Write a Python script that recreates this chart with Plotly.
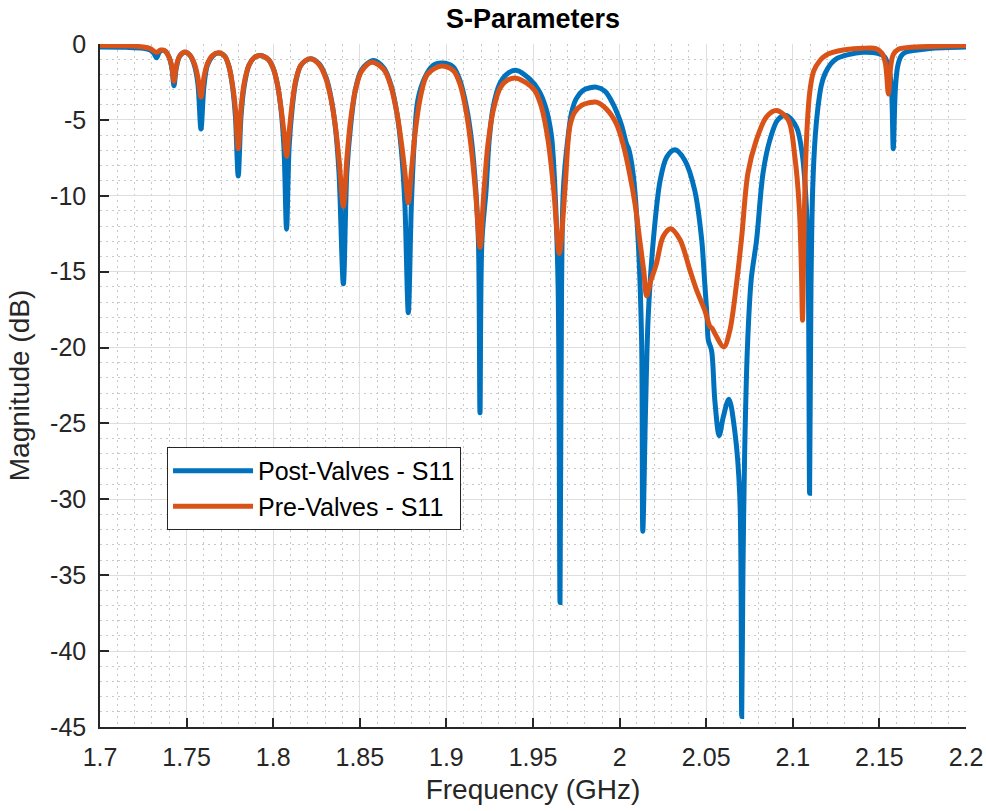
import plotly.graph_objects as go

# ---------------- data ----------------
# (frequency GHz, magnitude dB)
post_valves_s11 = [
    (1.700, -0.20), (1.715, -0.22), (1.725, -0.28), (1.729, -0.40), (1.731, -0.60),
    (1.7327, -0.90), (1.7342, -0.55), (1.736, -0.42), (1.738, -0.50), (1.740, -0.90),
    (1.7415, -1.60), (1.7427, -2.75), (1.744, -1.60), (1.746, -0.80), (1.7491, -0.55),
    (1.752, -0.75), (1.7545, -1.40), (1.7565, -2.60), (1.7583, -5.60), (1.760, -2.80),
    (1.762, -1.40), (1.765, -0.80), (1.7683, -0.60), (1.772, -0.80), (1.7745, -1.50),
    (1.7765, -2.80), (1.7782, -4.80), (1.7798, -8.70), (1.7814, -4.80), (1.7832, -2.80),
    (1.786, -1.40), (1.789, -0.90), (1.7924, -0.75), (1.797, -1.00), (1.800, -1.60),
    (1.8025, -2.70), (1.8045, -4.30), (1.8062, -6.80), (1.8077, -12.2), (1.8092, -6.80),
    (1.811, -4.20), (1.813, -2.50), (1.816, -1.40), (1.8212, -0.98), (1.8265, -1.30),
    (1.8305, -2.20), (1.8335, -3.60), (1.836, -5.60), (1.838, -8.50), (1.8405, -15.8),
    (1.8425, -8.50), (1.8447, -5.40), (1.8475, -3.00), (1.851, -1.70), (1.8578, -1.09),
    (1.864, -1.60), (1.868, -2.70), (1.8715, -4.60), (1.874, -7.00), (1.876, -10.5),
    (1.878, -17.7), (1.8798, -10.5), (1.8815, -6.35), (1.8835, -3.70), (1.8876, -2.20),
    (1.8922, -1.42), (1.8973, -1.26), (1.9039, -1.50), (1.9078, -2.40), (1.9116, -4.16),
    (1.9145, -6.35), (1.917, -9.65), (1.9185, -13.0), (1.9194, -24.3), (1.9205, -13.0),
    (1.9229, -9.65), (1.9247, -6.35), (1.927, -4.16), (1.9309, -2.60), (1.9347, -2.00),
    (1.9406, -1.74), (1.948, -2.30), (1.9533, -3.06), (1.9573, -4.16), (1.9606, -6.00),
    (1.9627, -9.65), (1.9645, -16.0), (1.9656, -36.8), (1.9665, -16.0), (1.9675, -9.65),
    (1.970, -6.35), (1.9723, -4.50), (1.9750, -3.60), (1.9790, -3.05), (1.9830, -2.88),
    (1.9864, -2.84), (1.9915, -3.10), (1.9962, -3.94), (2.001, -5.30), (2.004, -6.60),
    (2.0052, -6.90), (2.0078, -8.55), (2.0107, -12.9), (2.0127, -19.5), (2.0134, -32.1),
    (2.015, -24.0), (2.0165, -18.0), (2.0195, -12.9), (2.0234, -9.00), (2.0272, -7.45),
    (2.032, -6.97), (2.0377, -7.67), (2.0434, -9.65), (2.0474, -12.9), (2.049, -15.5),
    (2.0505, -18.0), (2.0512, -19.5), (2.0531, -20.2), (2.055, -23.5), (2.0575, -25.8),
    (2.0598, -24.6), (2.0631, -23.4), (2.0666, -25.6), (2.0694, -29.8), (2.0705, -44.3),
    (2.0712, -35.0), (2.0722, -27.0), (2.0738, -20.0), (2.076, -15.5), (2.0791, -12.9),
    (2.0828, -8.50), (2.0867, -6.35), (2.0913, -5.00), (2.0962, -4.70), (2.1022, -5.50),
    (2.1055, -7.30), (2.1075, -10.0), (2.1088, -14.0), (2.1097, -29.6), (2.1105, -16.0),
    (2.1115, -9.50), (2.113, -6.00), (2.1145, -4.20), (2.1165, -2.70), (2.1186, -1.95),
    (2.122, -1.30), (2.1253, -0.96), (2.132, -0.70), (2.1405, -0.55), (2.149, -0.62),
    (2.153, -0.85), (2.1555, -1.60), (2.157, -3.00), (2.158, -6.90), (2.1592, -3.00),
    (2.1605, -1.50), (2.1625, -0.80), (2.165, -0.55), (2.179, -0.30), (2.200, -0.20),
]

pre_valves_s11 = [
    (1.700, -0.10), (1.715, -0.12), (1.725, -0.20), (1.729, -0.30), (1.7325, -0.55),
    (1.735, -0.40), (1.7375, -0.45), (1.740, -0.90), (1.7415, -1.50), (1.7427, -2.45),
    (1.744, -1.50), (1.746, -0.80), (1.7491, -0.52), (1.752, -0.75), (1.7545, -1.30),
    (1.7565, -2.20), (1.7583, -3.50), (1.760, -2.20), (1.762, -1.30), (1.765, -0.75),
    (1.7683, -0.58), (1.772, -0.80), (1.7745, -1.50), (1.7765, -2.70), (1.7782, -4.30),
    (1.7798, -6.90), (1.7814, -4.30), (1.7832, -2.60), (1.786, -1.40), (1.789, -0.90),
    (1.7924, -0.75), (1.797, -1.00), (1.800, -1.60), (1.8025, -2.70), (1.8045, -4.20),
    (1.8062, -5.80), (1.8077, -7.40), (1.8092, -5.80), (1.811, -3.90), (1.813, -2.40),
    (1.816, -1.40), (1.8212, -0.98), (1.8265, -1.35), (1.8305, -2.30), (1.8335, -3.70),
    (1.836, -5.50), (1.838, -7.60), (1.8405, -10.7), (1.8425, -7.60), (1.8447, -5.00),
    (1.8475, -3.00), (1.851, -1.80), (1.857, -1.20), (1.864, -1.70), (1.868, -2.80),
    (1.8715, -4.60), (1.874, -6.50), (1.876, -8.40), (1.878, -10.45), (1.8798, -8.40),
    (1.882, -5.80), (1.885, -3.50), (1.889, -2.00), (1.897, -1.45), (1.904, -1.75),
    (1.908, -2.70), (1.9115, -4.50), (1.9145, -7.00), (1.917, -10.0), (1.9194, -13.4),
    (1.9215, -10.0), (1.924, -6.60), (1.927, -4.40), (1.931, -2.90), (1.935, -2.40),
    (1.9403, -2.25), (1.946, -2.55), (1.951, -3.06), (1.9549, -4.16), (1.9587, -6.35),
    (1.962, -9.65), (1.9652, -13.8), (1.9684, -9.65), (1.9703, -6.35), (1.9716, -5.25),
    (1.9740, -4.50), (1.9780, -4.05), (1.9820, -3.88), (1.9866, -3.83), (1.9925, -4.30),
    (1.9981, -5.25), (2.002, -6.60), (2.0058, -8.55), (2.009, -10.6), (2.0116, -12.9),
    (2.014, -15.0), (2.0156, -16.6), (2.018, -15.6), (2.0212, -14.5), (2.0251, -12.7),
    (2.0295, -12.17), (2.0349, -12.9), (2.0406, -14.9), (2.0444, -16.2), (2.0492, -17.55),
    (2.0521, -18.6), (2.0535, -18.75), (2.055, -19.07), (2.0602, -19.96), (2.0636, -18.9),
    (2.0675, -15.8), (2.0705, -12.7), (2.0741, -8.50), (2.0789, -6.35), (2.0848, -4.80),
    (2.0906, -4.38), (2.0974, -5.00), (2.1012, -7.45), (2.1037, -10.7), (2.105, -15.0),
    (2.1056, -18.2), (2.1064, -13.0), (2.1072, -8.50), (2.1085, -5.00), (2.1099, -3.06),
    (2.112, -1.80), (2.1157, -1.09), (2.119, -0.75), (2.123, -0.55), (2.130, -0.38),
    (2.1405, -0.28), (2.148, -0.30), (2.1515, -0.60), (2.1535, -1.30), (2.1552, -3.30),
    (2.1565, -1.50), (2.158, -0.70), (2.161, -0.35), (2.170, -0.20), (2.185, -0.15),
    (2.200, -0.10),
]

post_freq = [p[0] for p in post_valves_s11]
post_db = [p[1] for p in post_valves_s11]
pre_freq = [p[0] for p in pre_valves_s11]
pre_db = [p[1] for p in pre_valves_s11]

x_tick_vals = [1.7, 1.75, 1.8, 1.85, 1.9, 1.95, 2.0, 2.05, 2.1, 2.15, 2.2]
x_tick_text = ["1.7", "1.75", "1.8", "1.85", "1.9", "1.95", "2", "2.05", "2.1", "2.15", "2.2"]
y_tick_vals = [0, -5, -10, -15, -20, -25, -30, -35, -40, -45]
y_tick_text = ["0", "-5", "-10", "-15", "-20", "-25", "-30", "-35", "-40", "-45"]

series_names = ["Post-Valves - S11", "Pre-Valves - S11"]
series_colors = ["#0072BD", "#D95319"]

# ---------------- figure ----------------
FONT = "Liberation Sans, Arial, Helvetica, sans-serif"
AX = "#262626"

fig = go.Figure()
for fx, fy, nm, col in [(post_freq, post_db, series_names[0], series_colors[0]),
                        (pre_freq, pre_db, series_names[1], series_colors[1])]:
    fig.add_trace(go.Scatter(x=fx, y=fy, mode="lines", name=nm,
                             line=dict(color=col, width=5, shape="spline", smoothing=0.9)))

axis_common = dict(
    showline=True, linecolor=AX, linewidth=1.5,
    ticks="inside", ticklen=9, tickwidth=1.5, tickcolor=AX,
    showgrid=True, gridcolor="#dedede", gridwidth=1,
    zeroline=False, automargin=False,
    tickfont=dict(family=FONT, size=25, color=AX),
    ticklabelstandoff=7,
)

fig.update_layout(
    width=986, height=811,
    paper_bgcolor="white", plot_bgcolor="white",
    margin=dict(l=100, r=20, t=44, b=84),
    font=dict(family=FONT, color=AX),
    title=dict(text="<b>S-Parameters</b>", x=0.5, xref="paper", xanchor="center",
               y=0.977, yref="container", yanchor="middle",
               font=dict(family=FONT, size=27, color="black")),
    showlegend=True,
    legend=dict(x=0.0774, y=0.41, xanchor="left", yanchor="top",
                bgcolor="white", bordercolor=AX, borderwidth=1,
                font=dict(family=FONT, size=25, color="black"),
                itemwidth=80, tracegroupgap=0),
    xaxis=dict(range=[1.7, 2.2], tickmode="array", tickvals=x_tick_vals, ticktext=x_tick_text,
               minor=dict(tickmode="linear", tick0=1.7, dtick=0.01, showgrid=True,
                          gridcolor="#c8c8c8", griddash="2px,4px", gridwidth=1, ticks=""),
               title=dict(text="Frequency (GHz)", font=dict(family=FONT, size=28, color=AX), standoff=10),
               **axis_common),
    yaxis=dict(range=[-45, 0], tickmode="array", tickvals=y_tick_vals, ticktext=y_tick_text,
               minor=dict(tickmode="linear", tick0=0, dtick=1, showgrid=True,
                          gridcolor="#c8c8c8", griddash="2px,4px", gridwidth=1, ticks=""),
               title=dict(text="Magnitude (dB)", font=dict(family=FONT, size=28, color=AX), standoff=12),
               **axis_common),
)

fig.write_html("out.html")
